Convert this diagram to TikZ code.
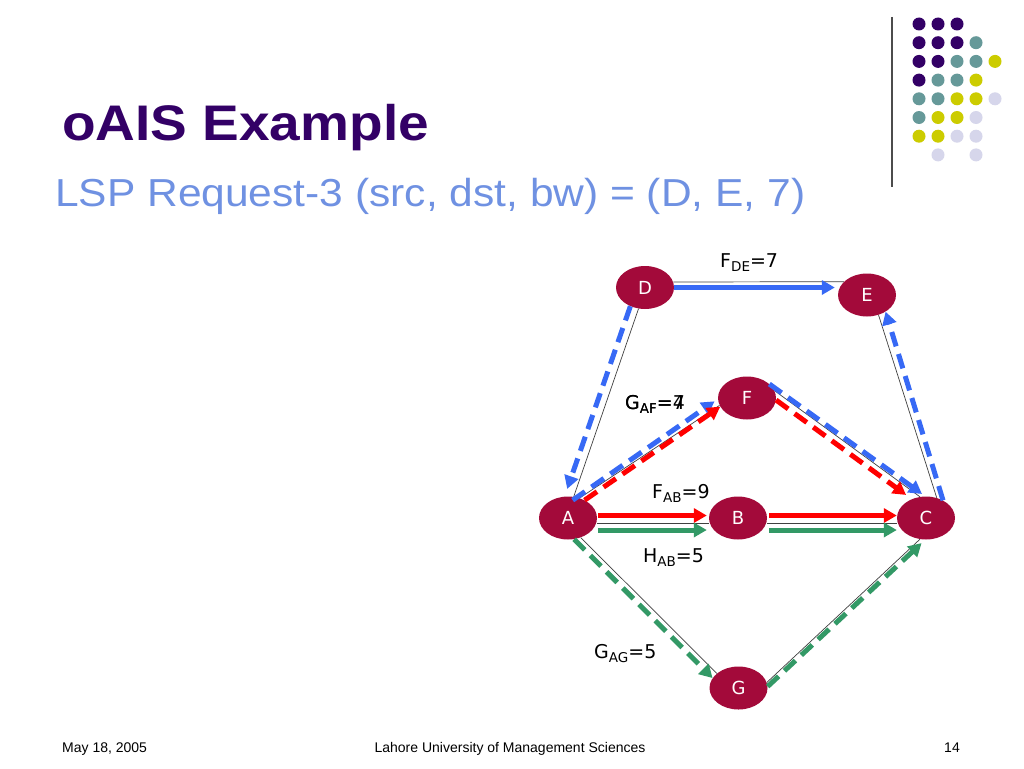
\documentclass[tikz,border=0pt]{standalone}
\usepackage{fontspec}
\setmainfont{Liberation Sans}
\newfontfamily\djv{DejaVu Sans}
\usetikzlibrary{shapes.geometric,arrows.meta}
\definecolor{titlepurple}{RGB}{51,0,102}
\definecolor{subblue}{RGB}{111,145,226}
\definecolor{nodered}{RGB}{163,10,58}
\definecolor{arrblue}{RGB}{55,105,245}
\definecolor{arrred}{RGB}{255,0,0}
\definecolor{arrgreen}{RGB}{51,153,102}
\definecolor{dotP}{RGB}{51,0,102}
\definecolor{dotT}{RGB}{102,153,153}
\definecolor{dotY}{RGB}{204,204,0}
\definecolor{dotL}{RGB}{214,214,235}
\newcommand{\flab}[3]{#1\raisebox{-4pt}{\fontsize{13.5}{13.5}\selectfont #2}=#3}
\tikzset{
  net/.style={ellipse, fill=nodered, minimum width=58pt, minimum height=43pt, inner sep=0pt,
    text=white, font=\djv\fontsize{18}{18}\selectfont},
  link/.style={draw=black!75, line width=0.7pt},
  flow/.style={line width=5pt, -{Triangle[length=13pt,width=14pt]}},
  dsh/.style={dash pattern=on 15pt off 8pt},
  lbl/.style={anchor=base west, inner sep=0pt, font=\djv\fontsize{19}{19}\selectfont},
  dot/.style={circle, inner sep=0pt, minimum size=13pt},
}
\begin{document}
\begin{tikzpicture}[x=1pt,y=-1pt]
\useasboundingbox[fill=white] (0,0) rectangle (1024,768);
% decoration
\draw[line width=1.5pt, black!70] (892,17) -- (892,187);
\foreach \c [count=\r] in {{P,P,P,N,N},{P,P,P,T,N},{P,P,T,T,Y},{P,T,T,Y,N},{T,T,Y,Y,L},{T,Y,Y,L,N},{Y,Y,L,L,N},{N,L,N,L,N}}{
  \foreach \k [count=\i] in \c {
    \if\k N\else
      \node[dot, fill=dot\k] at ({919+19*(\i-1)}, {24+18.7*(\r-1)}) {};
    \fi
  }
}
% titles
\node[anchor=base west, inner sep=0pt, text=titlepurple] (title) at (62,140)
  {\scalebox{1.1}[1]{\fontsize{50}{50}\selectfont\bfseries oAIS Example}};
\node[anchor=base west, inner sep=0pt, text=subblue] (sub) at (55,206)
  {\scalebox{1.09}[1]{\fontsize{39}{39}\selectfont LSP Request-3 (src, dst, bw) = (D, E, 7)}};
\node[anchor=base west, inner sep=0pt, font=\fontsize{14}{14}\selectfont] (date) at (62,752) {May 18, 2005};
\node[anchor=base, inner sep=0pt, font=\fontsize{14}{14}\selectfont] (univ) at (510,752) {Lahore University of Management Sciences};
\node[anchor=base, inner sep=0pt, font=\fontsize{14}{14}\selectfont] (page) at (952,752) {14};
% nodes
\node[net] (D) at (645,287.5) {D};
\node[net] (E) at (867,295) {E};
\node[net] (F) at (747,398) {F};
\node[net] (A) at (568,518) {A};
\node[net] (B) at (738,518) {B};
\node[net] (C) at (926,518) {C};
\node[net] (G) at (738.5,688) {G};
% thin links
\draw[link] (D.11) -- (E.150);
\draw[link] (D.253) -- (A.75);
\draw[link] (E.300) -- (C.62);
\draw[link] (A.60) -- (F.195);
\draw[link] (F.15) -- (C.106);
\draw[link] ([yshift=-5pt]A.east) -- ([yshift=-5pt]B.west);
\draw[link] ([yshift=-5pt]B.east) -- ([yshift=-5pt]C.west);
\draw[link] (A.-57) -- (G.146);
\draw[link] (G.11) -- (C.254);
% blue flows
\draw[flow, arrblue, shorten >=3pt] (D.east) -- (D.east -| E.west);
\draw[flow, dsh, arrblue, shorten >=8pt] (D.232) -- (A.99);
\draw[flow, dsh, arrblue, shorten <=-5pt, shorten >=4pt] (A.67) -- (F.182);
\draw[flow, dsh, arrblue, shorten >=4pt] (F.32) -- (C.92);
\draw[flow, dsh, arrblue] (C.46) -- (E.318);
% red flows
\draw[flow, dsh, arrred] (A.47) -- (F.198);
\draw[flow, dsh, arrred, shorten >=7pt] (F.356) -- (C.127);
\draw[flow, arrred, shorten <=1pt, shorten >=2pt] ([yshift=2.5pt]A.east) -- ([yshift=2.5pt]B.west);
\draw[flow, arrred, shorten <=2pt, shorten >=0pt] ([yshift=2.5pt]B.east) -- ([yshift=2.5pt]C.west);
% green flows
\draw[flow, arrgreen, shorten <=1pt, shorten >=2pt] ([yshift=-12pt]A.east) -- ([yshift=-12pt]B.west);
\draw[flow, arrgreen, shorten <=2pt, shorten >=0pt] ([yshift=-12pt]B.east) -- ([yshift=-12pt]C.west);
\draw[flow, dsh, arrgreen] (A.286) -- (G.159);
\draw[flow, dsh, arrgreen, shorten >=5pt] (G.3) -- (C.268);
% labels
\node[lbl] (lDE) at (720,267) {\flab{F}{DE}{7}};
\node[lbl] (lAF4) at (625,409) {\flab{G}{AF}{4}};
\node[lbl] (lAF7) at (625,409) {\flab{G}{AF}{7}};
\node[lbl] (lFAB) at (652,498) {\flab{F}{AB}{9}};
\node[lbl] (lHAB) at (643,562) {\flab{H}{AB}{5}};
\node[lbl] (lGAG) at (594,658) {\flab{G}{AG}{5}};
\end{tikzpicture}
\end{document}
